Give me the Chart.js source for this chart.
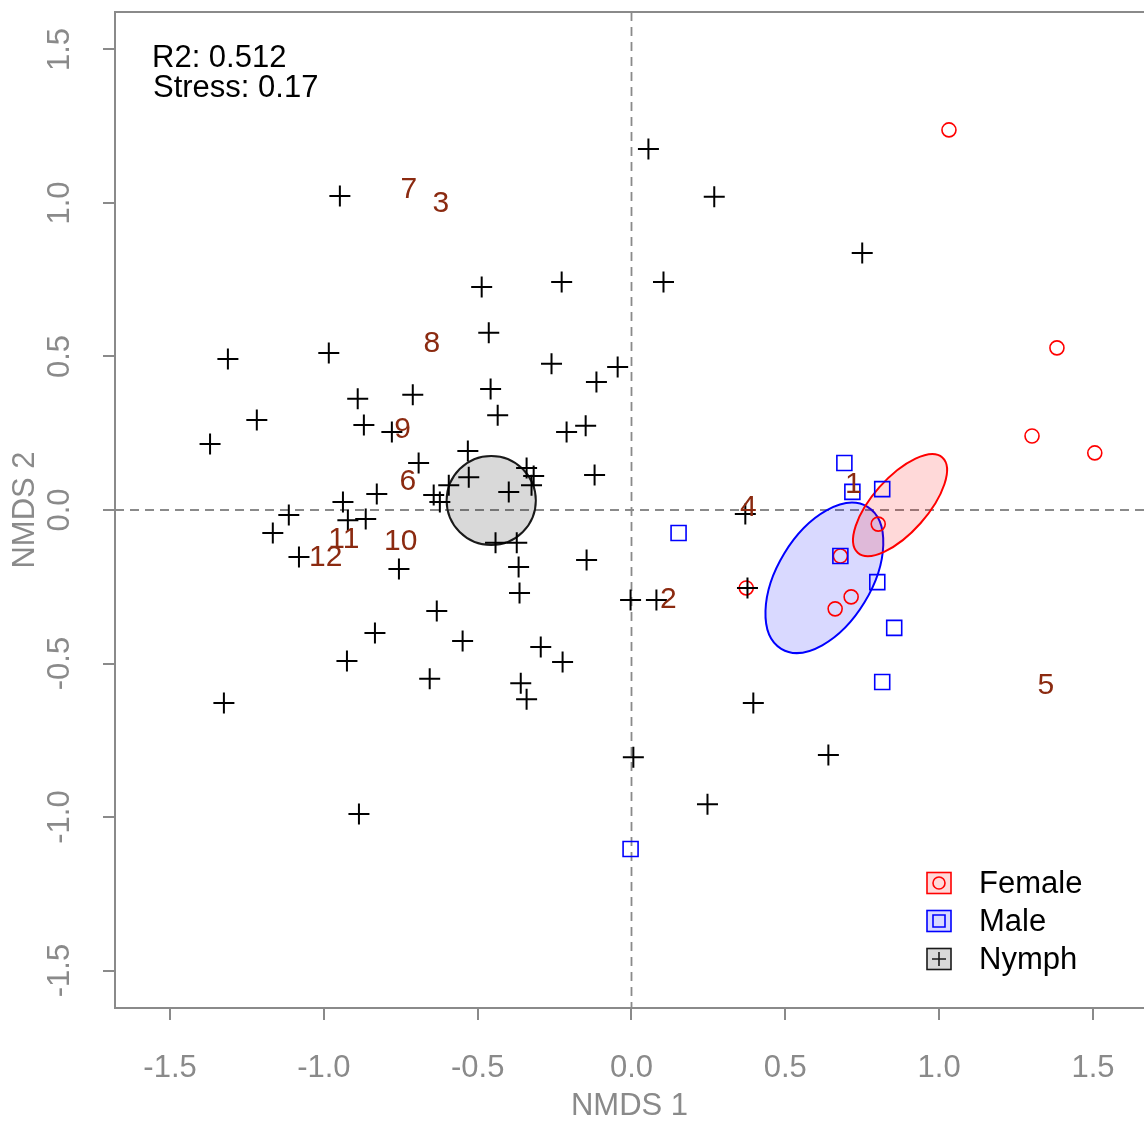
<!DOCTYPE html>
<html lang="en">
<head>
<meta charset="UTF-8">
<title>NMDS ordination</title>
<script src="https://cdn.jsdelivr.net/npm/chart.js"></script>
<style>
  html, body { margin: 0; padding: 0; background: #fff; overflow: hidden; }
  #wrap { width: 1144px; height: 1126px; }
</style>
</head>
<body>
<div id="wrap"><canvas id="nmdsChart" width="1144" height="1126"></canvas></div>
<script>
// axis ticks
const xTicks = [-1.5, -1.0, -0.5, 0.0, 0.5, 1.0, 1.5];
const yTicks = [-1.5, -1.0, -0.5, 0.0, 0.5, 1.0, 1.5];

// site scores per group
const nymphX = [-0.948, 0.055, 0.269, 0.750, -0.487, -0.227, 0.104, -0.464, -1.312, -0.984,
                -0.260, -0.045, -0.114, -0.711, -0.458, -0.435, -0.890, -1.218, -1.370, -0.870,
                -0.779, -0.149, -0.211, -0.532, -0.692, -0.120, -0.341, -0.318, -0.325, -0.529,
                -0.399, -0.643, -0.623, -0.594, -0.828, -0.938, -1.114, -0.922, -0.864, -1.166,
                -1.081, -0.756, -0.442, -0.373, -0.367, -0.364, -0.146, -0.633, -0.834, -0.549,
                -0.295, -0.224, -0.925, -0.656, -0.360, -0.341, -1.325, -0.886, -0.003, 0.081,
                0.006, 0.247, 0.640, 0.396, 0.370, 0.377];
const nymphY = [1.023, 1.176, 1.020, 0.837, 0.726, 0.743, 0.743, 0.577, 0.492, 0.511,
                0.476, 0.466, 0.417, 0.375, 0.394, 0.309, 0.362, 0.293, 0.215, 0.277,
                0.254, 0.274, 0.254, 0.192, 0.153, 0.114, 0.137, 0.111, 0.081, 0.107,
                0.059, 0.049, 0.026, 0.081, 0.052, 0.026, -0.016, -0.033, -0.029, -0.075,
                -0.153, -0.192, -0.107, -0.107, -0.186, -0.270, -0.163, -0.329, -0.401, -0.427,
                -0.446, -0.495, -0.492, -0.550, -0.564, -0.616, -0.629, -0.990, -0.293, -0.293,
                -0.805, -0.958, -0.798, -0.629, -0.013, -0.254];

const maleX = [0.692, 0.718, 0.815, 0.153, 0.679, 0.799, 0.854, 0.815, -0.003];
const maleY = [0.153, 0.059, 0.068, -0.075, -0.150, -0.235, -0.384, -0.560, -1.104];

const femaleX = [1.032, 1.383, 1.302, 1.506, 0.802, 0.679, 0.714, 0.662, 0.373];
const femaleY = [1.238, 0.528, 0.241, 0.186, -0.046, -0.150, -0.283, -0.322, -0.254];

// species scores (labels)
const speciesLabels = ['1', '2', '3', '4', '5', '6', '7', '8', '9', '10', '11', '12'];
const speciesX = [0.721, 0.120, -0.620, 0.380, 1.347, -0.727, -0.724, -0.649, -0.744, -0.750, -0.935, -0.994];
const speciesY = [0.081, -0.293, 0.997, 0.007, -0.573, 0.091, 1.042, 0.541, 0.261, -0.104, -0.098, -0.156];

// group ellipses (centre, semi-axes in data units, angle in degrees)
const ellipseGroups = ['Nymph', 'Male', 'Female'];
const ellipseCX = [-0.456, 0.627, 0.873];
const ellipseCY = [0.031, -0.221, 0.016];
const ellipseA = [0.145, 0.270, 0.207];
const ellipseB = [0.145, 0.153, 0.089];
const ellipseAngle = [0, 58.7, 48.4];

const statLines = ['R2: 0.512', 'Stress: 0.17'];

const groupStyle = {
    Female: { stroke: '#ff0000', fill: 'rgba(255,0,0,0.15)' },
    Male: { stroke: '#0000ff', fill: 'rgba(0,0,255,0.15)' },
    Nymph: { stroke: '#1a1a1a', fill: 'rgba(0,0,0,0.15)' }
};

const axisGrey = '#8a8a8a';
const labelGrey = '#8a8a8a';
const FONT = '"Liberation Sans", Arial, sans-serif';

function toPoints(xs, ys) {
    return xs.map((x, i) => ({ x: x, y: ys[i] }));
}

// ellipses + zero lines under the points
const underlayPlugin = {
    id: 'underlay',
    beforeDatasetsDraw(chart) {
        const { ctx, chartArea, scales } = chart;
        const sx = scales.x, sy = scales.y;
        const pxX = Math.abs(sx.getPixelForValue(1) - sx.getPixelForValue(0));
        const pxY = Math.abs(sy.getPixelForValue(1) - sy.getPixelForValue(0));

        ctx.save();
        // dashed lines at 0
        ctx.strokeStyle = axisGrey;
        ctx.lineWidth = 1.8;
        ctx.setLineDash([9, 6]);
        const x0 = sx.getPixelForValue(0), y0 = sy.getPixelForValue(0);
        ctx.beginPath();
        ctx.moveTo(x0, chartArea.top);
        ctx.lineTo(x0, chartArea.bottom);
        ctx.moveTo(chartArea.left, y0);
        ctx.lineTo(chartArea.right, y0);
        ctx.stroke();
        ctx.setLineDash([]);

        for (let i = 0; i < ellipseGroups.length; i++) {
            const st = groupStyle[ellipseGroups[i]];
            ctx.beginPath();
            ctx.ellipse(sx.getPixelForValue(ellipseCX[i]), sy.getPixelForValue(ellipseCY[i]),
                ellipseA[i] * pxX, ellipseB[i] * pxY, -ellipseAngle[i] * Math.PI / 180, 0, Math.PI * 2);
            ctx.fillStyle = st.fill;
            ctx.fill();
            ctx.lineWidth = 2;
            ctx.strokeStyle = st.stroke;
            ctx.stroke();
        }
        ctx.restore();
    }
};

// labels, box top, y tick labels, stats, legend
const overlayPlugin = {
    id: 'overlay',
    afterDraw(chart) {
        const { ctx, chartArea, scales } = chart;
        const sx = scales.x, sy = scales.y;
        ctx.save();

        // top edge of the box
        ctx.strokeStyle = axisGrey;
        ctx.lineWidth = 2;
        ctx.beginPath();
        ctx.moveTo(chartArea.left - 1, chartArea.top);
        ctx.lineTo(chartArea.right, chartArea.top);
        ctx.stroke();

        // species labels
        ctx.font = '30px ' + FONT;
        ctx.fillStyle = '#8b2a10';
        ctx.textAlign = 'center';
        ctx.textBaseline = 'middle';
        speciesLabels.forEach((lab, i) => {
            ctx.fillText(lab, sx.getPixelForValue(speciesX[i]), sy.getPixelForValue(speciesY[i]));
        });

        // y tick labels, rotated like R
        ctx.font = '31px ' + FONT;
        ctx.fillStyle = labelGrey;
        yTicks.forEach(v => {
            ctx.save();
            ctx.translate(60, sy.getPixelForValue(v));
            ctx.rotate(-Math.PI / 2);
            ctx.fillText(v.toFixed(1), 0, 0);
            ctx.restore();
        });

        // stats text
        ctx.fillStyle = '#000';
        ctx.textAlign = 'left';
        ctx.textBaseline = 'alphabetic';
        ctx.fillText(statLines[0], chartArea.left + 37, 67);
        ctx.fillText(statLines[1], chartArea.left + 38, 97);

        // legend
        const bx = 939, rows = [883, 921, 959];
        ['Female', 'Male', 'Nymph'].forEach((g, i) => {
            const st = groupStyle[g];
            const cy = rows[i];
            ctx.fillStyle = '#fff';
            ctx.fillRect(bx - 12, cy - 10.5, 24, 21);
            ctx.fillStyle = st.fill;
            ctx.fillRect(bx - 12, cy - 10.5, 24, 21);
            ctx.strokeStyle = st.stroke;
            ctx.lineWidth = 1.6;
            ctx.strokeRect(bx - 12, cy - 10.5, 24, 21);
            ctx.beginPath();
            if (g === 'Female') {
                ctx.arc(bx, cy, 6, 0, Math.PI * 2);
            } else if (g === 'Male') {
                ctx.rect(bx - 6, cy - 6, 12, 12);
            } else {
                ctx.moveTo(bx - 7, cy); ctx.lineTo(bx + 7, cy);
                ctx.moveTo(bx, cy - 7); ctx.lineTo(bx, cy + 7);
            }
            ctx.stroke();
            ctx.fillStyle = '#000';
            ctx.textBaseline = 'middle';
            ctx.fillText(g, 979, cy + 1);
        });
        ctx.restore();
    }
};

new Chart(document.getElementById('nmdsChart'), {
    type: 'scatter',
    data: {
        datasets: [
            {
                label: 'Nymph',
                data: toPoints(nymphX, nymphY),
                pointStyle: 'cross',
                pointRadius: 10.5,
                borderWidth: 2,
                borderColor: '#000',
                backgroundColor: '#000'
            },
            {
                label: 'Male',
                data: toPoints(maleX, maleY),
                pointStyle: 'rect',
                pointRadius: 10.6,
                borderWidth: 1.6,
                borderColor: '#0000ff',
                backgroundColor: 'rgba(0,0,0,0)'
            },
            {
                label: 'Female',
                data: toPoints(femaleX, femaleY),
                pointStyle: 'circle',
                pointRadius: 7,
                borderWidth: 1.6,
                borderColor: '#ff0000',
                backgroundColor: 'rgba(0,0,0,0)'
            }
        ]
    },
    options: {
        responsive: false,
        animation: false,
        devicePixelRatio: 1,
        events: [],
        layout: { autoPadding: false, padding: { left: 0, top: 12, right: 0, bottom: 0 } },
        plugins: {
            legend: { display: false },
            tooltip: { enabled: false }
        },
        scales: {
            x: {
                type: 'linear',
                min: -1.679,
                max: 1.666,
                afterFit: s => { s.height = 118; s.paddingLeft = 0; s.paddingRight = 0; },
                afterBuildTicks: s => { s.ticks = xTicks.map(v => ({ value: v })); },
                grid: { drawOnChartArea: false, drawTicks: true, tickLength: 12, color: axisGrey, lineWidth: 2 },
                border: { display: true, color: axisGrey, width: 2 },
                ticks: {
                    color: labelGrey,
                    font: { family: FONT, size: 31 },
                    padding: 30,
                    maxRotation: 0,
                    callback: v => Number(v).toFixed(1)
                },
                title: {
                    display: true,
                    text: 'NMDS 1',
                    color: labelGrey,
                    font: { family: FONT, size: 31, lineHeight: 1.2 },
                    padding: { top: 0, bottom: 1 }
                }
            },
            y: {
                type: 'linear',
                min: -1.622,
                max: 1.622,
                afterFit: s => { s.width = 115; s.paddingTop = 0; s.paddingBottom = 0; },
                afterBuildTicks: s => { s.ticks = yTicks.map(v => ({ value: v })); },
                grid: { drawOnChartArea: false, drawTicks: true, tickLength: 12, color: axisGrey, lineWidth: 2 },
                border: { display: true, color: axisGrey, width: 2 },
                ticks: { display: false },
                title: {
                    display: true,
                    text: 'NMDS 2',
                    color: labelGrey,
                    font: { family: FONT, size: 31, lineHeight: 1.2 },
                    padding: { top: 7, bottom: 0 }
                }
            }
        }
    },
    plugins: [underlayPlugin, overlayPlugin]
});
</script>
</body>
</html>
